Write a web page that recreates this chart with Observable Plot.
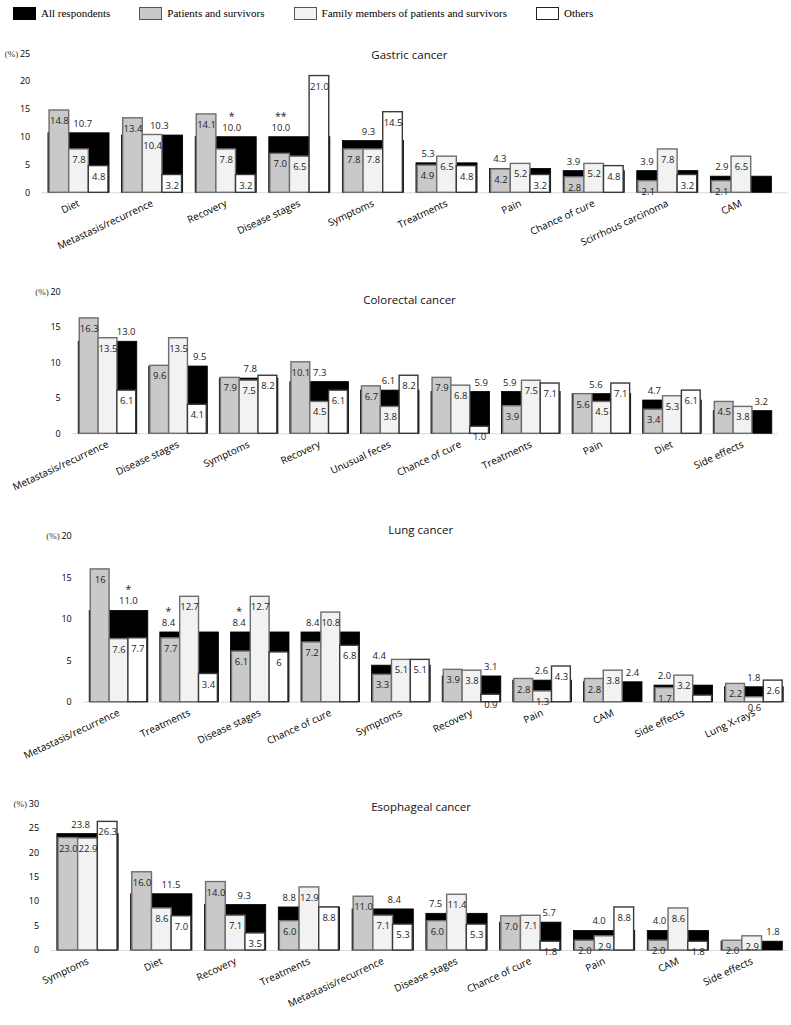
<!DOCTYPE html>
<html>
<head>
<meta charset="utf-8">
<script src="https://cdn.jsdelivr.net/npm/d3@7"></script>
<script src="https://cdn.jsdelivr.net/npm/@observablehq/plot@0.6"></script>
<style>
  html, body { margin: 0; padding: 0; background: #fff; }
  #page { position: relative; width: 791px; height: 1025px; overflow: hidden; background: #fff; }
  #page svg { position: absolute; left: 0; }
  #legend { position: absolute; left: 13px; top: 6px; display: flex; align-items: center;
            font-family: "Liberation Serif", "Times New Roman", serif; font-size: 11px; color: #000; }
  .sw { display: inline-block; width: 21px; height: 11px; box-sizing: content-box; }
  .lt { margin-left: 5px; margin-right: 29px; white-space: nowrap; line-height: 14px; }
</style>
</head>
<body>
<div id="page"><div id="legend"></div></div>
<script>
// ---------- series ----------
const seriesNames = ["All respondents", "Patients and survivors", "Family members of patients and survivors", "Others"];

// ---------- Gastric cancer ----------
const gastricCats = ["Diet", "Metastasis/recurrence", "Recovery", "Disease stages", "Symptoms", "Treatments", "Pain", "Chance of cure", "Scirrhous carcinoma", "CAM"];
const gastricAll = [10.7, 10.3, 10.0, 10.0, 9.3, 5.3, 4.3, 3.9, 3.9, 2.9];
const gastricPatients = [14.8, 13.4, 14.1, 7.0, 7.8, 4.9, 4.2, 2.8, 2.1, 2.1];
const gastricFamily = [7.8, 10.4, 7.8, 6.5, 7.8, 6.5, 5.2, 5.2, 7.8, 6.5];
const gastricOthers = [4.8, 3.2, 3.2, 21.0, 14.5, 4.8, 3.2, 4.8, 3.2, null];
const gastricStars = ["", "", "*", "**", "", "", "", "", "", ""];

// ---------- Colorectal cancer ----------
const colorectalCats = ["Metastasis/recurrence", "Disease stages", "Symptoms", "Recovery", "Unusual feces", "Chance of cure", "Treatments", "Pain", "Diet", "Side effects"];
const colorectalAll = [13.0, 9.5, 7.8, 7.3, 6.1, 5.9, 5.9, 5.6, 4.7, 3.2];
const colorectalPatients = [16.3, 9.6, 7.9, 10.1, 6.7, 7.9, 3.9, 5.6, 3.4, 4.5];
const colorectalFamily = [13.5, 13.5, 7.5, 4.5, 3.8, 6.8, 7.5, 4.5, 5.3, 3.8];
const colorectalOthers = [6.1, 4.1, 8.2, 6.1, 8.2, 1.0, 7.1, 7.1, 6.1, null];
const colorectalStars = ["", "", "", "", "", "", "", "", "", ""];

// ---------- Lung cancer ----------
const lungCats = ["Metastasis/recurrence", "Treatments", "Disease stages", "Chance of cure", "Symptoms", "Recovery", "Pain", "CAM", "Side effects", "Lung X-rays"];
const lungAll = [11.0, 8.4, 8.4, 8.4, 4.4, 3.1, 2.6, 2.4, 2.0, 1.8];
const lungPatients = [16, 7.7, 6.1, 7.2, 3.3, 3.9, 2.8, 2.8, 1.7, 2.2];
const lungFamily = [7.6, 12.7, 12.7, 10.8, 5.1, 3.8, 1.3, 3.8, 3.2, 0.6];
const lungOthers = [7.7, 3.4, 6, 6.8, 5.1, 0.9, 4.3, null, 0.8, 2.6]; // 0.8 (Side effects) is unlabelled in the source, estimated
const lungStars = ["*", "*", "*", "", "", "", "", "", "", ""];

// ---------- Esophageal cancer ----------
const esoCats = ["Symptoms", "Diet", "Recovery", "Treatments", "Metastasis/recurrence", "Disease stages", "Chance of cure", "Pain", "CAM", "Side effects"];
const esoAll = [23.8, 11.5, 9.3, 8.8, 8.4, 7.5, 5.7, 4.0, 4.0, 1.8];
const esoPatients = [23.0, 16.0, 14.0, 6.0, 11.0, 6.0, 7.0, 2.0, 2.0, 2.0];
const esoFamily = [22.9, 8.6, 7.1, 12.9, 7.1, 11.4, 7.1, 2.9, 8.6, 2.9];
const esoOthers = [26.3, 7.0, 3.5, 8.8, 5.3, 5.3, 1.8, 8.8, 1.8, null];
const esoStars = ["", "", "", "", "", "", "", "", "", ""];

// ---------- styling ----------
const FILLS = ["#000000", "#c9c9c9", "#f2f2f2", "#ffffff"];
const STROKES = ["#000000", "#6e6e6e", "#6e6e6e", "#3a3a3a"];
const FONT = "'Open Sans', 'Noto Sans', sans-serif";
const fmt1 = d3.format(".1f");

// where the "All respondents" label sits across its bar (0 = left edge, 1 = right edge)
const gastricLabelAt = [0.56, 0.61, 0.59, 0.19, 0.42, 0.19, 0.16, 0.16, 0.16, 0.18];
const colorectalLabelAt = [0.81, 0.86, 0.52, 0.5, 0.47, 0.85, 0.13, 0.4, 0.19, 0.81];
const lungLabelAt = [0.66, 0.14, 0.14, 0.19, 0.12, 0.82, 0.48, 0.83, 0.17, 0.49];
const esoLabelAt = [0.38, 0.65, 0.64, 0.17, 0.68, 0.15, 0.8, 0.41, 0.19, 0.84];

// legend
const legend = document.getElementById("legend");
seriesNames.forEach((name, k) => {
  const sw = document.createElement("span");
  sw.className = "sw";
  sw.style.background = FILLS[k];
  sw.style.border = `1.5px solid ${k === 0 ? "#000" : (k === 3 ? "#222" : "#555")}`;
  const t = document.createElement("span");
  t.className = "lt";
  t.textContent = name;
  legend.append(sw, t);
});

const B0 = 0.085, BW = 0.83, S0 = 0.1, SW = 0.8 / 3;

function panel(cfg) {
  const { title, cats, all, series, stars, labelAt, ymax, top, height, mt, mb, ml, mr, xmax,
          titleDx, titleDy, subFmt = fmt1, unlabeled = [] } = cfg;
  const black = all.map((v, i) => ({ i, v, star: stars[i], at: labelAt[i] }));
  const subs = series.map((arr, k) =>
    arr.map((v, i) => ({ i, k, v, show: !unlabeled.some(([kk, ii]) => kk === k && ii === i) }))
       .filter(d => d.v != null));
  const subMarks = subs.map((rows, k) =>
    Plot.rect(rows, {
      x1: d => d.i + S0 + d.k * SW, x2: d => d.i + S0 + (d.k + 1) * SW,
      y1: 0, y2: "v", fill: FILLS[k + 1], stroke: STROKES[k + 1], strokeWidth: 1.4
    })
  );
  const allSubs = subs.flat().filter(d => d.show);
  const svg = Plot.plot({
    width: 791, height,
    marginTop: mt, marginBottom: mb, marginLeft: ml, marginRight: mr,
    x: { domain: [0, xmax] },
    y: { domain: [0, ymax] },
    style: { fontFamily: FONT, fontSize: "9px", color: "#000", background: "transparent", overflow: "visible" },
    marks: [
      Plot.ruleY([0], { stroke: "#d9d9d9", strokeWidth: 1 }),
      Plot.rect(black, { x1: d => d.i + B0, x2: d => d.i + B0 + BW, y1: 0, y2: "v", fill: "#000", stroke: "#000", strokeWidth: 0.8 }),
      ...subMarks,
      Plot.text(allSubs, {
        x: d => d.i + S0 + (d.k + 0.5) * SW, y: "v", text: d => subFmt(d.v),
        dy: 10.5, lineAnchor: "middle", fontSize: 9.5, fill: "#222"
      }),
      Plot.text(black, {
        x: d => d.i + B0 + BW * d.at, y: "v", text: d => fmt1(d.v),
        dy: -9.5, lineAnchor: "middle", fontSize: 9.5, fill: "#222"
      }),
      Plot.text(black.filter(d => d.star), {
        x: d => d.i + B0 + BW * d.at, y: "v", text: "star",
        dy: -21, lineAnchor: "middle", fontSize: 10.5, fill: "#222"
      }),
      Plot.axisY(d3.range(0, ymax + 1, 5), { tickSize: 0, tickPadding: 12, fontSize: 9, label: null }),
      Plot.axisX(d3.range(cats.length).map(i => i + 0.5), {
        tickFormat: d => cats[Math.floor(d)], tickSize: 0, tickPadding: 10, tickRotate: -25,
        fontSize: 10, label: null
      }),
      Plot.text([title], { frameAnchor: "top", dx: titleDx, dy: titleDy, lineAnchor: "middle", fontSize: 11.5, fill: "#111" }),
      Plot.text(["(%)"], { frameAnchor: "top-left", dx: -24, textAnchor: "end", lineAnchor: "middle",
                            fontFamily: "'Liberation Serif', serif", fontSize: 9, fill: "#333" })
    ]
  });
  svg.style.top = top + "px";
  document.getElementById("page").append(svg);
}

panel({ title: "Gastric cancer", cats: gastricCats, all: gastricAll,
        series: [gastricPatients, gastricFamily, gastricOthers], stars: gastricStars, labelAt: gastricLabelAt,
        ymax: 25, top: 30, height: 250, mt: 23.3, mb: 87.7, ml: 41.7, mr: 3, xmax: 10.14, titleDx: -6, titleDy: 2 });

panel({ title: "Colorectal cancer", cats: colorectalCats, all: colorectalAll,
        series: [colorectalPatients, colorectalFamily, colorectalOthers], stars: colorectalStars, labelAt: colorectalLabelAt,
        ymax: 20, top: 280, height: 240, mt: 11.7, mb: 86.7, ml: 72.2, mr: 13.2, xmax: 10, titleDx: -16, titleDy: 8 });

panel({ title: "Lung cancer", cats: lungCats, all: lungAll,
        series: [lungPatients, lungFamily, lungOthers], stars: lungStars, labelAt: lungLabelAt,
        ymax: 20, top: 520, height: 270, mt: 15.7, mb: 88.3, ml: 83.2, mr: 1.8, xmax: 10, titleDx: -16, titleDy: -5.7,
        subFmt: v => String(v), unlabeled: [[2, 8]] });

panel({ title: "Esophageal cancer", cats: esoCats, all: esoAll,
        series: [esoPatients, esoFamily, esoOthers], stars: esoStars, labelAt: esoLabelAt,
        ymax: 30, top: 790, height: 235, mt: 13.3, mb: 75, ml: 50.6, mr: 2.4, xmax: 10, titleDx: 1, titleDy: 3.4 });
</script>
</body>
</html>
